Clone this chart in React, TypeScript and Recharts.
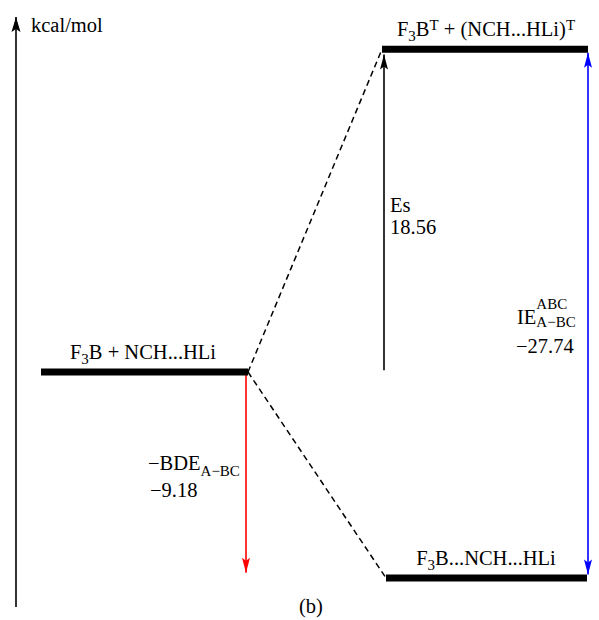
import { ComposedChart, Line, Scatter, XAxis, YAxis } from 'recharts';

document.body.style.margin = '0';

// energy levels (kcal/mol); the drawing is schematic, so heights are kept apart from the energies
const levelNames = ['F_{3}B + NCH...HLi', 'F_{3}B^{T} + (NCH...HLi)^{T}', 'F_{3}B...NCH...HLi'];
const levelEnergies = [0, 18.56, -9.18];
const levelHeights = [0, 18.45, -11.77];
const levelFrom = [41, 382, 386];
const levelTo = [248, 588, 587];
const levelLabelX = [143, 486, 486];

// energy gaps drawn as arrows
const gapNames = ['Es', '−BDE_{A−BC}', 'IE^{ABC}'];
const gapValues = [18.56, -9.18, -27.74];

const FONT = '"Liberation Serif", "Times New Roman", serif';
const FS = 20.5;
const SMALL = 15;
const W = 599;
const H = 620;

const fmt = (v: number) => (v < 0 ? '−' + Math.abs(v).toFixed(2) : v.toFixed(2));

const levelLines = levelNames.map((_, i) => [
  { x: levelFrom[i], y: levelHeights[i] },
  { x: levelTo[i], y: levelHeights[i] },
]);

const dashLines = [
  [
    { x: levelTo[0], y: levelHeights[0] },
    { x: levelFrom[1], y: levelHeights[1] },
  ],
  [
    { x: levelTo[0], y: levelHeights[0] },
    { x: levelFrom[2], y: levelHeights[2] },
  ],
];

const arrows = [
  {
    color: '#000',
    data: [
      { x: 16, y: -13.43 },
      { x: 16, y: 20.29, head: 'up' },
    ],
  },
  {
    color: '#000',
    data: [
      { x: 384, y: levelHeights[0] + 0.1 },
      { x: 384, y: levelHeights[1] - 0.3, head: 'up' },
    ],
  },
  {
    color: '#ff0000',
    data: [
      { x: 246, y: levelHeights[0] },
      { x: 246, y: levelHeights[2] + 0.3, head: 'down' },
    ],
  },
  {
    color: '#0000ff',
    data: [
      { x: 588, y: levelHeights[1] - 0.2, head: 'up' },
      { x: 588, y: levelHeights[2] + 0.2, head: 'down' },
    ],
  },
];

const labels = [
  { x: 31, y: 19.43, text: 'kcal/mol', anchor: 'start' },
  ...levelNames.map((n, i) => ({ x: levelLabelX[i], y: levelHeights[i] + 0.77, text: n, anchor: 'middle' })),
  { x: 390, y: 9.14, text: gapNames[0], anchor: 'start' },
  { x: 390, y: 7.89, text: fmt(gapValues[0]), anchor: 'start' },
  { x: 148, y: -5.6, text: gapNames[1], anchor: 'start', sub: 6 },
  { x: 150, y: -7.14, text: fmt(gapValues[1]), anchor: 'start' },
  { x: 517, y: 2.75, text: gapNames[2], anchor: 'start', sup: -15 },
  { x: 517, y: 2.75, text: '~{IE}_{A−BC}', anchor: 'start', sub: 3 },
  { x: 516, y: 1.09, text: fmt(gapValues[2]), anchor: 'start' },
  { x: 311, y: -13.77, text: '(b)', anchor: 'middle' },
];

type LabelProps = { x: number; y: number; text: string; anchor: string; sup?: number; sub?: number };

function RichText({ x, y, text, anchor, sup = -6, sub = 5 }: LabelProps) {
  const parts = text.split(/(\^\{[^}]*\}|_\{[^}]*\}|~\{[^}]*\})/).filter((p) => p !== '');
  let shift = 0;
  const spans = parts.map((p, i) => {
    let target = 0;
    let size = FS;
    let body = p;
    let hidden = false;
    if (p.startsWith('^{')) {
      target = sup;
      size = SMALL;
      body = p.slice(2, -1);
    } else if (p.startsWith('_{')) {
      target = sub;
      size = SMALL;
      body = p.slice(2, -1);
    } else if (p.startsWith('~{')) {
      hidden = true;
      body = p.slice(2, -1);
    }
    const dy = target - shift;
    shift = target;
    return (
      <tspan key={i} dy={dy} fontSize={size} fillOpacity={hidden ? 0 : 1}>
        {body}
      </tspan>
    );
  });
  return (
    <text x={x} y={y} textAnchor={anchor as any} fontFamily={FONT} fontSize={FS} fill="#000">
      {spans}
    </text>
  );
}

const arrowDot = (color: string, len: number, half: number) => (props: any) => {
  const { cx, cy, payload, index } = props;
  if (!payload || !payload.head) return <g key={index} />;
  const d = payload.head === 'up' ? 1 : -1;
  const b = cy + d * len;
  return (
    <path
      key={index}
      d={`M${cx},${cy} L${cx - half},${b} L${cx},${b - d * 3} L${cx + half},${b} Z`}
      fill={color}
    />
  );
};

export default function App() {
  return (
    <div style={{ width: W, height: H, background: '#fff' }}>
      <ComposedChart width={W} height={H} margin={{ top: 4.5, right: 0, bottom: 3, left: 0 }}>
        <XAxis type="number" dataKey="x" domain={[0, W]} hide />
        <YAxis type="number" dataKey="y" domain={[-14, 21]} hide />
        {dashLines.map((d, i) => (
          <Line
            key={'dash' + i}
            data={d}
            dataKey="y"
            stroke="#000"
            strokeWidth={1.5}
            strokeDasharray="6 4"
            dot={false}
            activeDot={false}
            isAnimationActive={false}
          />
        ))}
        {arrows.map((a, i) => (
          <Line
            key={'arrow' + i}
            data={a.data}
            dataKey="y"
            stroke={a.color}
            strokeWidth={1.6}
            dot={arrowDot(a.color, 15, i === 0 ? 4.5 : 4)}
            activeDot={false}
            isAnimationActive={false}
          />
        ))}
        {levelLines.map((d, i) => (
          <Line
            key={'level' + i}
            data={d}
            dataKey="y"
            stroke="#000"
            strokeWidth={7}
            strokeLinecap="butt"
            dot={false}
            activeDot={false}
            isAnimationActive={false}
          />
        ))}
        <Scatter
          data={labels}
          dataKey="y"
          isAnimationActive={false}
          shape={(p: any) => (
            <RichText
              x={p.cx}
              y={p.cy}
              text={p.payload.text}
              anchor={p.payload.anchor}
              sup={p.payload.sup}
              sub={p.payload.sub}
            />
          )}
        />
      </ComposedChart>
    </div>
  );
}
